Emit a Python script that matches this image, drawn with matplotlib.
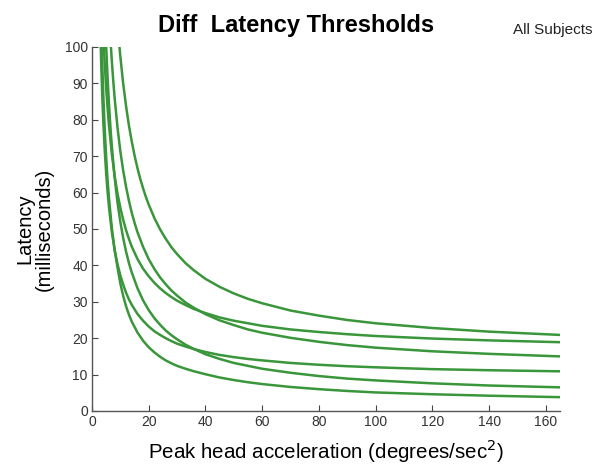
import matplotlib
matplotlib.use("Agg")
import matplotlib.pyplot as plt

plt.rcParams['font.family'] = ['Liberation Sans', 'DejaVu Sans']

# Curve data (x = peak head acceleration, y = latency ms)
x1 = [9.6, 10, 11, 12, 13, 14, 15, 16, 17, 18, 19, 20, 22, 24, 26, 28, 30, 33, 36, 40, 45, 50, 55, 60, 70, 80, 90, 100, 120, 140, 165]
y1 = [100.7, 97.3, 89.9, 83.8, 78.5, 74.1, 70.2, 66.8, 63.8, 61.2, 58.8, 56.7, 53.0, 49.9, 47.3, 45.0, 43.1, 40.6, 38.6, 36.3, 34.1, 32.3, 30.8, 29.6, 27.6, 26.2, 25.0, 24.1, 22.8, 21.8, 20.9]

x2 = [4.2, 4.5, 5, 5.5, 6, 7, 8, 9, 10, 11, 12, 13, 14, 16, 18, 20, 22, 24, 26, 28, 30, 33, 36, 40, 45, 50, 55, 60, 70, 80, 90, 100, 120, 140, 165]
y2 = [99.8, 95.2, 88.6, 83.1, 78.3, 70.6, 64.5, 59.7, 55.8, 52.5, 49.7, 47.3, 45.2, 41.8, 39.1, 37.0, 35.2, 33.7, 32.4, 31.3, 30.3, 29.1, 28.0, 26.9, 25.7, 24.8, 24.1, 23.4, 22.4, 21.7, 21.1, 20.6, 19.9, 19.4, 18.9]

x3 = [6.6, 7, 7.5, 8, 9, 10, 11, 12, 13, 14, 15, 16, 18, 20, 22, 24, 26, 28, 30, 33, 36, 40, 45, 50, 55, 60, 70, 80, 90, 100, 120, 140, 165]
y3 = [101.0, 96.0, 90.6, 85.8, 77.8, 71.3, 66.0, 61.6, 57.8, 54.5, 51.7, 49.2, 45.1, 41.7, 39.0, 36.7, 34.8, 33.1, 31.7, 29.8, 28.3, 26.6, 24.9, 23.6, 22.4, 21.5, 20.1, 19.0, 18.1, 17.4, 16.4, 15.7, 15.0]

x4 = [3.0, 3.25, 3.5, 3.75, 4, 4.5, 5, 5.5, 6, 7, 8, 9, 10, 11, 12, 13, 14, 16, 18, 20, 22, 24, 26, 28, 30, 33, 36, 40, 45, 50, 55, 60, 70, 80, 90, 100, 120, 140, 165]
y4 = [102.5, 95.4, 89.2, 83.9, 79.2, 71.4, 65.2, 60.1, 55.9, 49.2, 44.2, 40.3, 37.2, 34.7, 32.5, 30.7, 29.2, 26.7, 24.8, 23.2, 21.9, 20.9, 20.0, 19.2, 18.5, 17.7, 17.0, 16.2, 15.4, 14.8, 14.3, 13.9, 13.2, 12.7, 12.3, 12.0, 11.5, 11.2, 10.9]

x5 = [5, 5.5, 6, 6.5, 7, 8, 9, 10, 11, 12, 13, 14, 16, 18, 20, 22, 24, 26, 28, 30, 33, 36, 40, 45, 50, 55, 60, 70, 80, 90, 100, 120, 140, 165]
y5 = [100.2, 91.4, 84.1, 77.9, 72.6, 64.0, 57.2, 51.9, 47.5, 43.8, 40.7, 38.1, 33.8, 30.4, 27.7, 25.5, 23.7, 22.1, 20.8, 19.7, 18.2, 17.0, 15.6, 14.3, 13.2, 12.4, 11.6, 10.5, 9.6, 8.9, 8.4, 7.6, 7.0, 6.5]

x6 = [3.4, 3.7, 4, 4.5, 5, 5.5, 6, 7, 8, 9, 10, 11, 12, 13, 14, 16, 18, 20, 22, 24, 26, 28, 30, 33, 36, 40, 45, 50, 55, 60, 70, 80, 90, 100, 120, 140, 165]
y6 = [101.5, 93.4, 86.5, 77.1, 69.6, 63.4, 58.3, 50.2, 44.1, 39.4, 35.0, 31.6, 28.8, 26.5, 24.6, 21.6, 19.3, 17.5, 16.1, 14.9, 13.9, 13.1, 12.4, 11.6, 10.9, 10.1, 9.2, 8.5, 7.9, 7.4, 6.6, 6.0, 5.5, 5.1, 4.6, 4.2, 3.8]

curves = [(x1, y1), (x2, y2), (x3, y3), (x4, y4), (x5, y5), (x6, y6)]

x_ticks = [0, 20, 40, 60, 80, 100, 120, 140, 160]
y_ticks = [0, 10, 20, 30, 40, 50, 60, 70, 80, 90, 100]

title = "Diff  Latency Thresholds"
subtitle = "All Subjects"
xlabel = "Peak head acceleration (degrees/sec$^2$)"
ylabel = "Latency\n(milliseconds)"

fig = plt.figure(figsize=(5.99, 4.68), dpi=100)
ax = fig.add_axes([0.1536, 0.1218, 0.7813, 0.7778])

green = '#3a963a'
for xs, ys in curves:
    ax.plot(xs, ys, color=green, lw=1.8, solid_joinstyle='round', clip_on=True)

ax.set_xlim(0, 165)
ax.set_ylim(0, 100)
ax.set_xticks(x_ticks)
ax.set_yticks(y_ticks)
ax.tick_params(direction='in', length=4, width=0.8, colors='#444444',
               labelsize=10, labelcolor='#333333', pad=3)
for s in ['top', 'right']:
    ax.spines[s].set_visible(False)
for s in ['left', 'bottom']:
    ax.spines[s].set_color('#555555')
    ax.spines[s].set_linewidth(1.0)

ax.set_xlabel(xlabel, fontsize=14.8, labelpad=6)
ax.set_ylabel(ylabel, fontsize=14.5, labelpad=8, linespacing=1.0)

fig.text(0.495, 0.945, title, fontsize=17, fontweight='bold', ha='center', va='center')
fig.text(0.856, 0.935, subtitle, fontsize=11, ha='left', va='center', color='#222222')

fig.savefig('out.png', dpi=100)
